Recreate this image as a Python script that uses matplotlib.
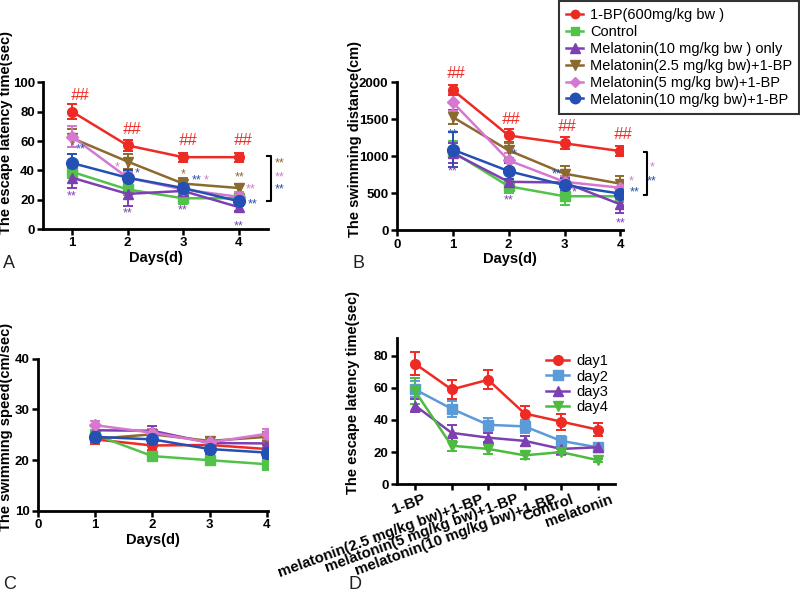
import numpy as np
import matplotlib.pyplot as plt
import matplotlib.transforms as mtransforms
from matplotlib.lines import Line2D

plt.rcParams['font.family'] = ['Liberation Sans', 'DejaVu Sans']

# ---------------- data ----------------
days = [1, 2, 3, 4]
groups = ['1-BP(600mg/kg bw )', 'Control', 'Melatonin(10 mg/kg bw ) only',
          'Melatonin(2.5 mg/kg bw)+1-BP', 'Melatonin(5 mg/kg bw)+1-BP',
          'Melatonin(10 mg/kg bw)+1-BP']

# A: escape latency (sec)
lat_mean = [[80, 57, 49, 49],
            [39, 27, 21, 21],
            [35, 24, 26, 15],
            [62, 46, 31, 28],
            [63, 35, 27, 22],
            [45, 35, 28, 19]]
lat_err = [[5, 4, 3, 3],
           [4, 4, 4, 3],
           [7, 8, 4, 3],
           [6, 5, 4, 3],
           [7, 4, 3, 3],
           [6, 5, 3, 3]]

# B: swimming distance (cm)
dist_mean = [[1897, 1281, 1175, 1070],
             [1060, 595, 460, 460],
             [1045, 655, 645, 350],
             [1530, 1080, 765, 630],
             [1730, 945, 655, 575],
             [1090, 800, 610, 495]]
dist_err = [[70, 90, 80, 70],
            [150, 90, 120, 80],
            [130, 130, 80, 120],
            [100, 100, 110, 110],
            [120, 100, 80, 70],
            [240, 110, 80, 80]]

# C: swimming speed (cm/sec)
speed_mean = [[24.1, 22.9, 23.0, 22.2],
              [25.0, 20.8, 20.0, 19.2],
              [25.9, 25.8, 23.4, 23.3],
              [24.2, 25.1, 23.8, 24.6],
              [26.9, 25.4, 23.5, 25.2],
              [24.6, 24.1, 22.2, 21.5]]
speed_err = [[0.9, 0.8, 0.8, 0.8],
             [0.8, 0.8, 1.0, 1.2],
             [0.8, 0.9, 0.9, 0.9],
             [0.9, 0.8, 0.8, 0.9],
             [0.9, 0.8, 0.9, 1.0],
             [1.0, 0.9, 1.0, 1.0]]

# D: escape latency by treatment
treatments = ['1-BP', 'melatonin(2.5 mg/kg bw)+1-BP', 'melatonin(5 mg/kg bw)+1-BP',
              'melatonin(10 mg/kg bw)+1-BP', 'Control', 'melatonin']
day_names = ['day1', 'day2', 'day3', 'day4']
d_mean = [[75, 59, 65, 44, 39, 34],
          [59, 47, 37, 36, 27, 23],
          [49, 32, 29, 27, 22, 23],
          [58, 24, 22, 18, 20, 15]]
d_err = [[7, 6, 6, 5, 5, 4],
         [5, 5, 4, 4, 3, 2],
         [4, 5, 3, 3, 2, 2],
         [8, 3, 3, 2, 2, 1]]

# ---------------- styles ----------------
g_colors = ['#ee2a24', '#52c24a', '#7d40b2', '#8c6a2e', '#d678cf', '#2450b4']
g_markers = ['o', 's', '^', 'v', 'D', 'o']
g_msize = [7, 6.5, 7.5, 7.5, 6.5, 8.5]
d_colors = ['#ee2a24', '#5b9bd8', '#7d40b2', '#4cbb40']
d_markers = ['o', 's', '^', 'v']

fig = plt.figure(figsize=(8, 5.92), dpi=100)
axA = fig.add_axes([0.054, 0.613, 0.281, 0.248])
axB = fig.add_axes([0.496, 0.611, 0.283, 0.250])
axC = fig.add_axes([0.0475, 0.137, 0.2875, 0.257])
axD = fig.add_axes([0.496, 0.182, 0.273, 0.247])

lab_font = dict(fontsize=10.5, fontweight='bold')


def style_axis(ax):
    for s in ['top', 'right']:
        ax.spines[s].set_visible(False)
    for s in ['left', 'bottom']:
        ax.spines[s].set_linewidth(2)
    ax.tick_params(width=1.8, length=4.5, direction='out', pad=1.5)
    for lab in ax.get_xticklabels() + ax.get_yticklabels():
        lab.set_fontweight('bold')
        lab.set_fontsize(9.5)


def draw_groups(ax, means, errs):
    for i in range(len(groups)):
        ax.errorbar(days, means[i], yerr=errs[i], color=g_colors[i], marker=g_markers[i],
                    markersize=g_msize[i], linewidth=1.8, elinewidth=1.4, capsize=3.5,
                    capthick=1.4)


def star(ax, x, y, s, c, size=9):
    ax.text(x, y, s, color=c, fontsize=size, ha='center', va='center', clip_on=False)


# ---------------- A ----------------
draw_groups(axA, lat_mean, lat_err)
axA.set_xlim(0.48, 4.53)
axA.set_ylim(0, 100)
axA.set_xticks([1, 2, 3, 4])
axA.set_yticks([0, 20, 40, 60, 80, 100])
axA.set_xlabel('Days(d)', labelpad=1, **lab_font)
axA.set_ylabel('The escape latency time(sec)', **lab_font)
axA.yaxis.set_label_coords(-0.135, 0.66)
style_axis(axA)
for k, (d, v) in enumerate(zip(days, lat_mean[0])):
    dx = 0.15 if k == 0 else 0.08
    axA.text(d + dx, v + 6, '##', color=g_colors[0], fontsize=12, style='italic',
             ha='center', va='bottom')
for d, v in zip(days, lat_mean[2]):
    axA.text(d, v - 9, '**', color=g_colors[2], fontsize=9, ha='center', va='top')
star(axA, 1.15, 54, '**', g_colors[5])
star(axA, 1.0, 56, '*', g_colors[3])
star(axA, 1.82, 42, '*', g_colors[4])
star(axA, 2.18, 38, '*', g_colors[5])
star(axA, 3.0, 37, '*', g_colors[3])
star(axA, 3.25, 33, '**', g_colors[5])
star(axA, 3.42, 33, '*', g_colors[4])
star(axA, 4.02, 35, '**', g_colors[3])
star(axA, 4.22, 27, '**', g_colors[4])
star(axA, 4.25, 17, '**', g_colors[5])
axA.plot([4.52, 4.58, 4.58, 4.52], [50, 50, 19, 19], color='black', lw=1.5, clip_on=False)
star(axA, 4.74, 45, '**', g_colors[3])
star(axA, 4.74, 35, '**', g_colors[4])
star(axA, 4.74, 27, '**', g_colors[5])

# ---------------- B ----------------
draw_groups(axB, dist_mean, dist_err)
axB.set_xlim(0, 4.05)
axB.set_ylim(0, 2000)
axB.set_xticks([0, 1, 2, 3, 4])
axB.set_yticks([0, 500, 1000, 1500, 2000])
axB.set_xlabel('Days(d)', labelpad=1, **lab_font)
axB.set_ylabel('The swimming distance(cm)', **lab_font)
axB.yaxis.set_label_coords(-0.155, 0.62)
style_axis(axB)
for d, v in zip(days, dist_mean[0]):
    axB.text(d + 0.05, v + 120, '##', color=g_colors[0], fontsize=12, style='italic',
             ha='center', va='bottom')
for d, v in zip(days, dist_mean[2]):
    if d != 3:
        axB.text(d, v - 170, '**', color=g_colors[2], fontsize=9, ha='center', va='top')
star(axB, 1.0, 1300, '**', g_colors[5])
star(axB, 2.1, 1020, '*', g_colors[5])
star(axB, 2.85, 760, '**', g_colors[5])
star(axB, 3.18, 510, '*', g_colors[2])
star(axB, 4.2, 660, '*', g_colors[4])
star(axB, 4.26, 510, '**', g_colors[5])
axB.plot([4.42, 4.48, 4.48, 4.42], [1060, 1060, 475, 475], color='black', lw=1.5, clip_on=False)
star(axB, 4.56, 850, '*', g_colors[4])
star(axB, 4.56, 660, '**', g_colors[5])

handles = [Line2D([], [], color=g_colors[i], marker=g_markers[i], markersize=g_msize[i] - 1,
                  linewidth=1.8) for i in range(len(groups))]
leg = fig.legend(handles, groups, loc='upper right', bbox_to_anchor=(1.0, 1.0), fontsize=10.5,
                 frameon=True, fancybox=False, edgecolor='black', labelspacing=0.2,
                 handlelength=1.2, handletextpad=0.45, borderpad=0.5, borderaxespad=0.05)
leg.get_frame().set_linewidth(1.5)

# ---------------- C ----------------
draw_groups(axC, speed_mean, speed_err)
axC.set_xlim(0, 4.02)
axC.set_ylim(10, 40)
axC.set_xticks([0, 1, 2, 3, 4])
axC.set_yticks([10, 20, 30, 40])
axC.set_xlabel('Days(d)', labelpad=1, **lab_font)
axC.set_ylabel('The swimming speed(cm/sec)', **lab_font)
axC.yaxis.set_label_coords(-0.107, 0.55)
style_axis(axC)

# ---------------- D ----------------
xpos = np.arange(len(treatments))
dhandles = []
for i in range(len(day_names)):
    axD.errorbar(xpos, d_mean[i], yerr=d_err[i], color=d_colors[i], marker=d_markers[i],
                 markersize=7, linewidth=1.8, elinewidth=1.4, capsize=3.5, capthick=1.4)
    dhandles.append(Line2D([], [], color=d_colors[i], marker=d_markers[i], markersize=7,
                           linewidth=1.8))
axD.set_xlim(-0.5, 5.48)
axD.set_ylim(0, 91)
axD.set_xticks(xpos)
axD.set_xticklabels([])
axD.set_yticks([0, 20, 40, 60, 80])
axD.set_ylabel('The escape latency time(sec)', **lab_font)
axD.yaxis.set_label_coords(-0.17, 0.63)
style_axis(axD)
axD.legend(dhandles, day_names, loc='upper right', bbox_to_anchor=(1.03, 0.98), frameon=False,
           fontsize=10.5, labelspacing=0.1, handlelength=1.6, handletextpad=0.5)

# rotated category labels, right end a little past the tick like the original
cat_size = 10.8
renderer = fig.canvas.get_renderer()
for x, name in zip(xpos, treatments):
    tmp = fig.text(0, 0, name, fontsize=cat_size, fontweight='bold')
    L = tmp.get_window_extent(renderer).width
    tmp.remove()
    off = mtransforms.ScaledTranslation((0.12 * L + 3) / 100, -8 / 100, fig.dpi_scale_trans)
    axD.text(x, 0, name, transform=axD.get_xaxis_transform() + off, rotation=20,
             rotation_mode='anchor', ha='right', va='top', fontsize=cat_size, fontweight='bold')

# panel letters
for lbl, x, y in [('A', 0.004, 0.548), ('B', 0.441, 0.548), ('C', 0.004, 0.005), ('D', 0.435, 0.005)]:
    fig.text(x, y, lbl, fontsize=13, color='#222222')

fig.savefig('out.png', dpi=100)
